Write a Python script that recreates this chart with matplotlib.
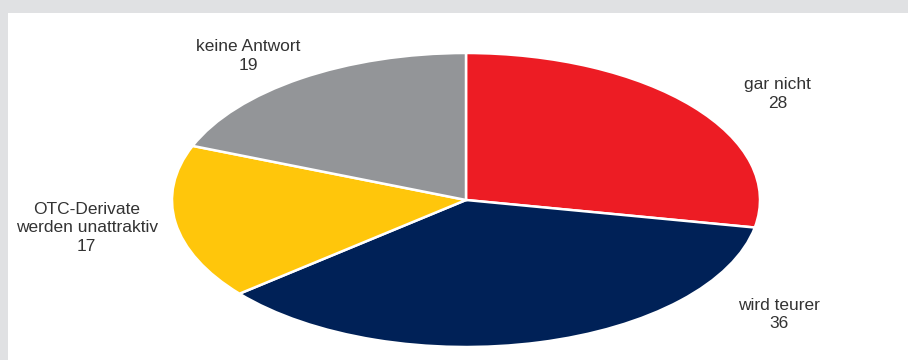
import matplotlib
matplotlib.use("Agg")
import matplotlib.pyplot as plt
from matplotlib.patches import Rectangle

categories = ["gar nicht", "wird teurer", "OTC-Derivate\nwerden unattraktiv", "keine Antwort"]
values = [28, 36, 17, 19]
colors = ["#ED1C24", "#002157", "#FFC60B", "#939598"]

# label anchor positions (axes data units, pie radius = 1)
label_pos = [(1.06, 0.72), (1.065, -0.78), (-1.29, -0.19), (-0.74, 0.98)]

plt.rcParams['font.family'] = ['Liberation Sans Narrow', 'Liberation Sans', 'DejaVu Sans']

W, H = 908, 360
fig = plt.figure(figsize=(W / 100, H / 100), dpi=100)
fig.patch.set_facecolor("white")

# gray frame bands (top and left)
fig.add_artist(Rectangle((0, 1 - 13 / H), 1, 13 / H, transform=fig.transFigure,
                         facecolor="#E0E1E3", edgecolor="none", zorder=0))
fig.add_artist(Rectangle((0, 0), 8 / W, 1, transform=fig.transFigure,
                         facecolor="#E0E1E3", edgecolor="none", zorder=0))

cx, cy, rx, ry = 466, 200, 294, 147
ax = fig.add_axes([(cx - rx) / W, (H - cy - ry) / H, 2 * rx / W, 2 * ry / H])
ax.pie(values, colors=colors, startangle=90, counterclock=False, radius=1,
       wedgeprops=dict(edgecolor="white", linewidth=1.8))
ax.set_aspect("auto")
ax.set_xlim(-1, 1)
ax.set_ylim(-1, 1)
ax.axis("off")

for cat, val, (x, y) in zip(categories, values, label_pos):
    ax.text(x, y, f"{cat}\n{val}", ha="center", va="center", fontsize=12.5,
            color="#333333", linespacing=1.3, clip_on=False)

fig.savefig("out.png", dpi=100)
